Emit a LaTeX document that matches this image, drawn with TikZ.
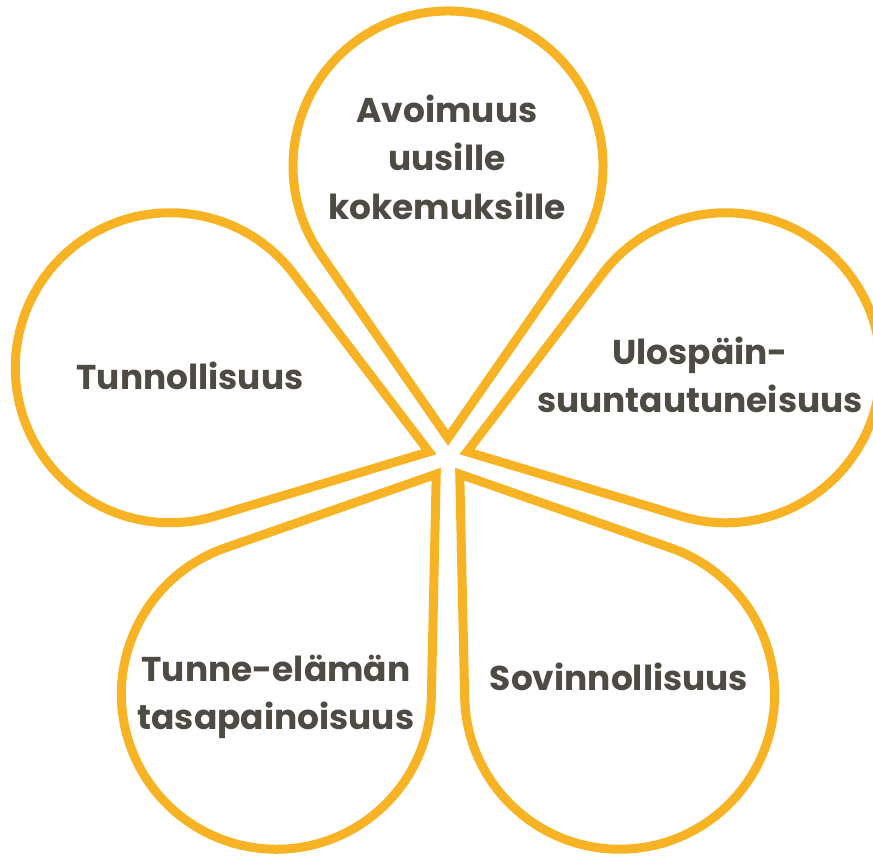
\documentclass[tikz,border=0pt]{standalone}
\usepackage{fontspec}
\setmainfont{Poppins}
\usepackage{tikz}
\usetikzlibrary{calc}
\definecolor{petal}{HTML}{F8B324}
\definecolor{ink}{HTML}{4E4A44}

\begin{document}
\begin{tikzpicture}[x=1pt, y=1pt,
  leaf/.style={draw=petal, line width=9pt, line join=miter},
  lbl/.style={text=ink, align=center, inner sep=0pt,
    font=\fontsize{34.4}{48.5}\selectfont\bfseries}]
\useasboundingbox (0,0) rectangle (873,859);
\fill[white] (0,0) rectangle (873,859);
\coordinate (c) at (448,401);
% five drops, 72 degrees apart
\pgfmathsetmacro\h{acos(155/272)}
\foreach \a in {90,162,234,306,18} {
  \coordinate (tip) at ($(c)+(\a:20)$);
  \coordinate (mid) at ($(c)+(\a:292)$);
  \draw[leaf] (tip) -- ($(mid)+(\a+180+\h:155)$)
    arc[start angle=\a+180+\h, delta angle=360-2*\h, radius=155] -- cycle;
}
\node[lbl] (open) at (447,702) {Avoimuus\\uusille\\kokemuksille};
\node[lbl] (consc) at (190,483) {Tunnollisuus};
\node[lbl] (extra) at (700,484) {Ulospäin-\\suuntautuneisuus};
\node[lbl] (neuro) at (276,162) {Tunne-elämän\\tasapainoisuus};
\node[lbl] (agree) at (619,182) {Sovinnollisuus};
\end{tikzpicture}
\end{document}
